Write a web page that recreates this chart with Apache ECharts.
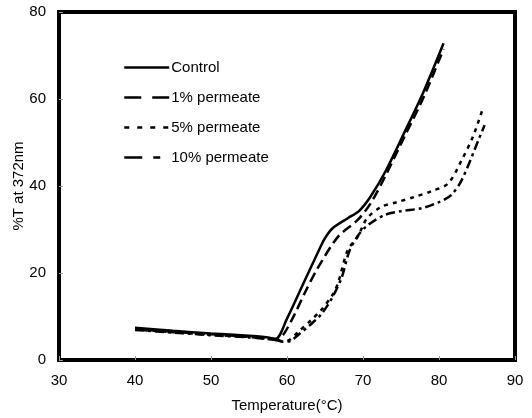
<!DOCTYPE html>
<html>
<head>
<meta charset="UTF-8">
<title>%T at 372nm</title>
<script src="https://cdn.jsdelivr.net/npm/echarts@6/dist/echarts.min.js"></script>
<style>
  html, body { margin: 0; padding: 0; background: #fff; }
  #main { width: 532px; height: 418px; }
</style>
</head>
<body>
<div id="main"></div>
<script>
// data: [temperature, %T]
var control = [[40,7.4],[45,6.7],[50,6.1],[55,5.6],[57,5.3],[58.5,4.9],[60,9.5],[62,17],[64,24.5],[65,28],[66,30.3],[68,32.6],[69.5,34.3],[71,37.6],[73,43.5],[75.5,52.5],[78,61.8],[80.6,72.8]];
var perm1 = [[40,7.1],[45,6.5],[50,5.9],[55,5.4],[57,5.1],[58.5,4.6],[59.5,5.8],[61,10.5],[62.3,15.3],[64,21],[66.7,28.3],[69.3,32.2],[71,36],[73,42.5],[75.5,51.5],[78,60.5],[80.6,71.5]];
var perm5 = [[40,7.0],[45,6.4],[50,5.8],[55,5.3],[57,5.0],[58.5,4.7],[59.5,4.3],[60.3,4.6],[61.5,6.5],[63.2,9.2],[64.5,11.5],[66,15],[66.7,17.6],[68,25.3],[69.3,28.3],[70.5,32.5],[72.4,35.2],[74.5,36.3],[76.8,37.5],[79,38.8],[81.2,40.6],[83,46],[84.5,51.5],[85.8,58]];
var perm10 = [[40,6.9],[45,6.3],[50,5.7],[55,5.2],[57,4.9],[58.5,4.6],[59.5,4.2],[60.5,4.4],[61.5,5.8],[63,8],[64.5,10.5],[66,14.5],[67.2,19],[68.2,25],[69.3,28.5],[70.5,30.8],[72.8,33.3],[75,34.2],[77.7,34.9],[80,36.3],[81.6,37.9],[83,41.4],[85.2,50.6],[86,54]];

var names = ['Control', '1% permeate', '5% permeate', '10% permeate'];
var lineData = [control, perm1, perm5, perm10];
var dashes = ['solid', [10, 5], [4, 5], [9, 4, 3, 4]];
var legendDashes = ['solid', [17, 11], [5, 8], [18, 11, 7, 40]];

var xTicks = [30, 40, 50, 60, 70, 80, 90];
var yTicks = [0, 20, 40, 60, 80];

var font = 'Arial, "Liberation Sans", sans-serif';

var series = [];
for (var i = 0; i < names.length; i++) {
  series.push({
    name: names[i],
    type: 'line',
    data: lineData[i],
    symbol: 'none',
    smooth: 0.3,
    color: '#000',
    lineStyle: { color: '#000', width: 2.5, type: dashes[i] }
  });
}

var legendData = [];
for (var j = 0; j < names.length; j++) {
  legendData.push({
    name: names[j],
    itemStyle: { opacity: 0 },
    lineStyle: { color: '#000', width: 2.5, type: legendDashes[j] }
  });
}

var myChart = echarts.init(document.getElementById('main'));
var option = {
  backgroundColor: '#fff',
  animation: false,
  textStyle: { fontFamily: font },
  grid: {
    left: 59, right: 17, top: 12, bottom: 58,
    outerBoundsMode: 'none',
    show: true, borderColor: '#000', borderWidth: 4
  },
  legend: {
    orient: 'vertical',
    left: 118, top: 55,
    itemWidth: 45, itemHeight: 14, itemGap: 15,
    data: legendData,
    itemStyle: { opacity: 0 },
    textStyle: { color: '#000', fontSize: 15, fontFamily: font, padding: [0, 0, 0, -3] }
  },
  xAxis: {
    type: 'value',
    min: xTicks[0], max: xTicks[xTicks.length - 1], interval: 10,
    name: 'Temperature(°C)',
    nameLocation: 'middle', nameGap: 38,
    nameMoveOverlap: false,
    nameTextStyle: { color: '#000', fontSize: 15 },
    axisLine: { lineStyle: { color: '#000', width: 4 } },
    axisTick: { inside: true, length: 4, lineStyle: { color: '#999', width: 1 } },
    axisLabel: { color: '#000', fontSize: 15, margin: 13 },
    splitLine: { show: false }
  },
  yAxis: {
    type: 'value',
    min: yTicks[0], max: yTicks[yTicks.length - 1], interval: 20,
    name: '%T at 372nm',
    nameLocation: 'middle', nameGap: 33,
    nameMoveOverlap: false,
    nameTextStyle: { color: '#000', fontSize: 15 },
    axisLine: { show: true, lineStyle: { color: '#000', width: 4 } },
    axisTick: { show: true, inside: true, length: 4, lineStyle: { color: '#999', width: 1 } },
    axisLabel: { color: '#000', fontSize: 15, margin: 13 },
    splitLine: { show: false }
  },
  series: series
};
myChart.setOption(option);
</script>
</body>
</html>
